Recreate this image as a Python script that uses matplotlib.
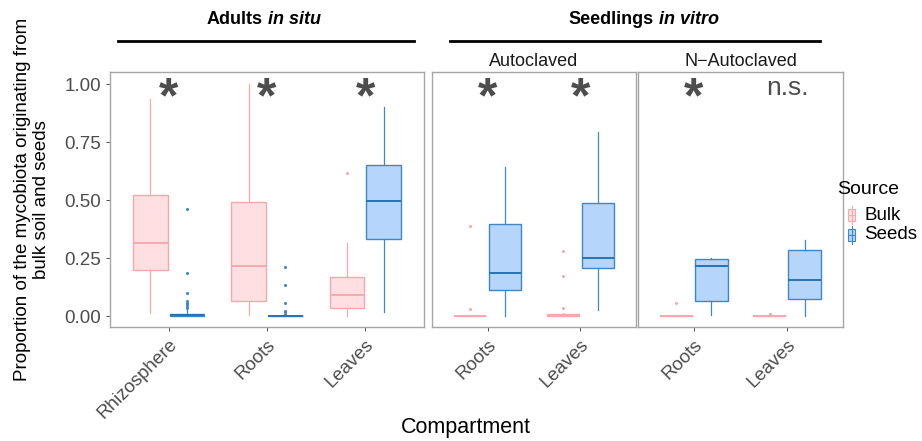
import numpy as np
import matplotlib.pyplot as plt

plt.rcParams['font.family'] = ['Liberation Sans', 'DejaVu Sans']

# box stats: (whislo, q1, med, q3, whishi, outliers)
adults_groups = ['Rhizosphere', 'Roots', 'Leaves']
adults_bulk = [
    (0.014, 0.200, 0.313, 0.524, 0.935, []),
    (0.004, 0.066, 0.215, 0.490, 1.000, []),
    (0.001, 0.037, 0.091, 0.170, 0.315, [0.616]),
]
adults_seeds = [
    (0.000, 0.001, 0.004, 0.011, 0.025, [0.461, 0.184, 0.098, 0.065, 0.058, 0.050, 0.043, 0.037]),
    (0.000, 0.000, 0.000, 0.002, 0.005, [0.213, 0.134, 0.055, 0.022, 0.016, 0.011]),
    (0.016, 0.331, 0.497, 0.651, 0.901, []),
]
auto_groups = ['Roots', 'Leaves']
auto_bulk = [
    (0.000, 0.000, 0.000, 0.002, 0.004, [0.387, 0.029]),
    (0.000, 0.000, 0.003, 0.011, 0.015, [0.282, 0.174, 0.037]),
]
auto_seeds = [
    (0.001, 0.112, 0.187, 0.397, 0.644, []),
    (0.026, 0.208, 0.249, 0.486, 0.793, []),
]
nauto_groups = ['Roots', 'Leaves']
nauto_bulk = [
    (0.000, 0.000, 0.000, 0.002, 0.003, [0.055]),
    (0.000, 0.000, 0.000, 0.002, 0.003, [0.007]),
]
nauto_seeds = [
    (0.004, 0.063, 0.218, 0.244, 0.252, []),
    (0.001, 0.073, 0.154, 0.287, 0.328, []),
]
adults_sig = ['*', '*', '*']
auto_sig = ['*', '*']
nauto_sig = ['*', 'n.s.']

W, H = 922, 441
fig = plt.figure(figsize=(W / 100, H / 100), dpi=100)

bulk_fill, bulk_edge = '#FFDFE2', '#F7A8AC'
seed_fill, seed_edge = '#B5D5FB', '#3E88C8'
seed_med = '#2673B4'
grey_txt = '#4D4D4D'


def px_axes(x0, x1, y0, y1):
    return fig.add_axes([x0 / W, 1 - y1 / H, (x1 - x0) / W, (y1 - y0) / H])


def to_stats(rows):
    out = []
    for lo, q1, med, q3, hi, fl in rows:
        out.append(dict(whislo=lo, q1=q1, med=med, q3=q3, whishi=hi, fliers=fl))
    return out


def panel(ax, groups, bulk, seeds, sig, show_y):
    n = len(groups)
    pos = np.arange(1, n + 1)
    for rows, off, fc, ec, mc in [(bulk, -0.1875, bulk_fill, bulk_edge, bulk_edge),
                                  (seeds, 0.1875, seed_fill, seed_edge, seed_med)]:
        ax.bxp(to_stats(rows), positions=pos + off, widths=0.35, patch_artist=True,
               showcaps=False,
               boxprops=dict(facecolor=fc, edgecolor=ec, linewidth=1),
               medianprops=dict(color=mc, linewidth=1.4),
               whiskerprops=dict(color=ec, linewidth=0.9),
               flierprops=dict(marker='o', markersize=2.2, markerfacecolor=ec,
                               markeredgecolor='none'))
    for p, s in zip(pos, sig):
        if s == '*':
            ax.text(p, 0.935, '*', ha='center', va='center', fontsize=36,
                    fontweight='bold', color=grey_txt)
        else:
            ax.text(p, 0.985, s, ha='center', va='center', fontsize=19, color=grey_txt)
    ax.set_xlim(0.4, n + 0.6)
    ax.set_ylim(-0.047, 1.052)
    ax.set_xticks(pos)
    ax.set_xticklabels(groups, rotation=45, ha='right', rotation_mode='anchor',
                       fontsize=13.5, color=grey_txt)
    ax.set_yticks([0, 0.25, 0.5, 0.75, 1.0])
    if show_y:
        ax.set_yticklabels(['0.00', '0.25', '0.50', '0.75', '1.00'], fontsize=13.5, color=grey_txt)
    else:
        ax.tick_params(axis='y', left=False, labelleft=False)
    ax.tick_params(colors='#333333', length=3, width=0.6)
    ax.tick_params(axis='x', labelcolor=grey_txt)
    ax.tick_params(axis='y', labelcolor=grey_txt)
    for sp in ax.spines.values():
        sp.set_color('#A6A6A6')
        sp.set_linewidth(1)


ax1 = px_axes(110, 424, 72, 327)
panel(ax1, adults_groups, adults_bulk, adults_seeds, adults_sig, True)
ax2 = px_axes(432, 636, 72, 327)
panel(ax2, auto_groups, auto_bulk, auto_seeds, auto_sig, False)
ax3 = px_axes(638, 843, 72, 327)
panel(ax3, nauto_groups, nauto_bulk, nauto_seeds, nauto_sig, False)

ax1.set_ylabel('Proportion of the mycobiota originating from\nbulk soil and seeds',
               fontsize=13.5, labelpad=10)

# header text and lines
fig.text(263 / W, 1 - 20 / H, 'Adults', ha='right', va='center', fontsize=13, fontweight='bold')
fig.text(268 / W, 1 - 20 / H, 'in situ', ha='left', va='center', fontsize=13,
         fontweight='bold', style='italic')
fig.text(654 / W, 1 - 20 / H, 'Seedlings', ha='right', va='center', fontsize=13, fontweight='bold')
fig.text(659 / W, 1 - 20 / H, 'in vitro', ha='left', va='center', fontsize=13,
         fontweight='bold', style='italic')
fig.add_artist(plt.Line2D([118 / W, 414 / W], [1 - 41 / H] * 2, color='black', lw=2))
fig.add_artist(plt.Line2D([450 / W, 820 / W], [1 - 41 / H] * 2, color='black', lw=2))
fig.text(534 / W, 1 - 62 / H, 'Autoclaved', ha='center', va='center', fontsize=13, color='#1A1A1A')
fig.text(741 / W, 1 - 62 / H, 'N\u2212Autoclaved', ha='center', va='center', fontsize=13,
         color='#1A1A1A')

fig.text(466 / W, 1 - 428 / H, 'Compartment', ha='center', va='center', fontsize=15.5)

# legend
fig.text(837 / W, 1 - 190 / H, 'Source', ha='left', va='center', fontsize=14)
lax = px_axes(843, 860, 205, 245)
lax.set_xlim(0, 1)
lax.set_ylim(0, 2)
lax.axis('off')
for yc, fc, ec in [(1.5, bulk_fill, bulk_edge), (0.5, seed_fill, seed_edge)]:
    lax.add_patch(plt.Rectangle((0.3, yc - 0.3), 0.4, 0.6, facecolor=fc, edgecolor=ec, lw=0.8))
    lax.plot([0.5, 0.5], [yc - 0.45, yc + 0.45], color=ec, lw=0.8)
    lax.plot([0.3, 0.7], [yc, yc], color=ec, lw=0.8)
fig.text(864 / W, 1 - 216 / H, 'Bulk', ha='left', va='center', fontsize=13.5)
fig.text(864 / W, 1 - 234 / H, 'Seeds', ha='left', va='center', fontsize=13.5)

plt.savefig('out.png', dpi=100)
plt.close()
